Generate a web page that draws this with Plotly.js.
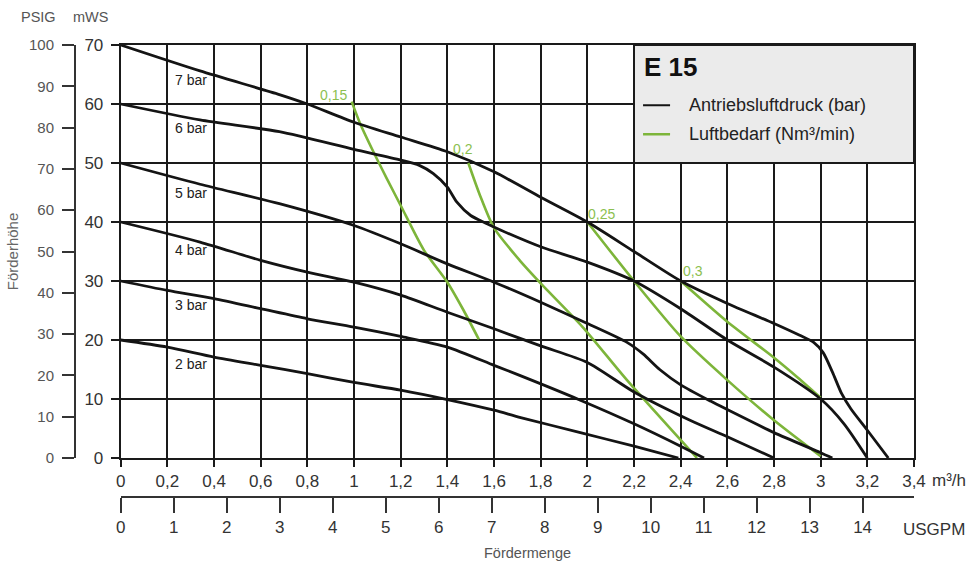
<!DOCTYPE html>
<html><head><meta charset="utf-8">
<script src="https://cdn.plot.ly/plotly-3.0.1.min.js"></script>
<style>html,body{margin:0;padding:0;background:#fff}#chart{width:974px;height:564px}</style>
</head><body><div id="chart"></div>
<script>
// Tick labels
const flowTicks = [0,0.2,0.4,0.6,0.8,1,1.2,1.4,1.6,1.8,2,2.2,2.4,2.6,2.8,3,3.2,3.4];
const flowTickText = ['0','0,2','0,4','0,6','0,8','1','1,2','1,4','1,6','1,8','2','2,2','2,4','2,6','2,8','3','3,2','3,4'];
const headTicks = [0,10,20,30,40,50,60,70];
const psigTicks = [0,10,20,30,40,50,60,70,80,90,100];
const gpmTicks = [0,1,2,3,4,5,6,7,8,9,10,11,12,13,14];

// Antriebsluftdruck curves: Fördermenge (m³/h) vs Förderhöhe (mWS)
const bar7Q = [0, 0.34, 0.68, 0.8, 1.0, 1.2, 1.4, 1.6, 1.8, 2.0, 2.2, 2.4, 2.6, 2.8, 2.91, 2.97, 3.01, 3.05, 3.09, 3.13, 3.2, 3.29];
const bar7H = [70, 65.6, 61.6, 60, 56.9, 54.4, 51.9, 48.5, 44.2, 40, 35, 30, 26.2, 22.8, 20.8, 19.6, 17.9, 14.6, 10.9, 8.3, 4.7, 0];
const bar6Q = [0, 0.34, 0.68, 1.0, 1.2, 1.28, 1.34, 1.4, 1.44, 1.5, 1.57, 1.63, 1.8, 2.0, 2.2, 2.4, 2.6, 2.8, 3.0, 3.1, 3.2];
const bar6H = [60, 57.3, 55.3, 52.3, 50.5, 49.6, 48.2, 45.9, 43.4, 41.1, 39.7, 38.6, 35.8, 33.2, 30, 25.3, 20, 15.4, 10, 5.8, 0];
const bar5Q = [0, 0.34, 0.68, 1.0, 1.2, 1.4, 1.6, 1.8, 2.0, 2.17, 2.24, 2.31, 2.4, 2.53, 2.6, 2.8, 3.0, 3.05];
const bar5H = [50, 46.4, 43.1, 39.4, 36.3, 32.9, 29.8, 26.4, 22.8, 19.6, 17.6, 15.0, 12.4, 9.6, 8.2, 4.3, 0.9, 0];
const bar4Q = [0, 0.34, 0.6, 0.8, 1.0, 1.2, 1.4, 1.6, 1.8, 2.0, 2.2, 2.44, 2.6, 2.8];
const bar4H = [40, 36.6, 33.5, 31.5, 29.8, 27.6, 24.7, 21.9, 19.0, 16.2, 11.2, 6.4, 3.6, 0];
const bar3Q = [0, 0.2, 0.4, 0.6, 0.8, 1.0, 1.2, 1.4, 1.6, 1.71, 1.97, 2.2, 2.4, 2.5];
const bar3H = [30, 28.4, 27, 25.3, 23.6, 22.2, 20.6, 18.8, 15.7, 14, 9.8, 5.8, 2.0, 0];
const bar2Q = [0, 0.2, 0.4, 0.6, 0.8, 1.0, 1.2, 1.4, 1.6, 1.71, 1.97, 2.2, 2.39];
const bar2H = [20, 18.8, 17.1, 15.7, 14.3, 12.8, 11.5, 9.9, 8.1, 6.9, 4.3, 2.0, 0];

// Luftbedarf curves (Nm³/min)
const air015Q = [0.99, 1.026, 1.083, 1.14, 1.2, 1.3, 1.4, 1.47, 1.535];
const air015H = [60.4, 56.7, 51.9, 47.4, 42.8, 35.2, 29.8, 25, 20.1];
const air020Q = [1.49, 1.54, 1.6, 1.71, 1.8, 1.98, 2.17, 2.47];
const air020H = [50, 44.5, 39, 33.5, 29.6, 22.2, 13.2, 0];
const air025Q = [2.0, 2.2, 2.4, 2.6, 2.8, 3.0];
const air025H = [40, 30, 20.6, 13.2, 6.4, 0.3];
const air030Q = [2.4, 2.6, 2.8, 2.9, 3.0];
const air030H = [30, 23.1, 17, 13.7, 10.2];

const pressureLabels = ['7 bar','6 bar','5 bar','4 bar','3 bar','2 bar'];
const pressureLabelQ = [0.224, 0.224, 0.224, 0.224, 0.224, 0.224];
const pressureLabelH = [64.0, 55.9, 44.9, 35.2, 26.0, 16.0];
const airLabels = ['0,15','0,2','0,25','0,3'];
const airLabelQ = [0.91, 1.467, 2.062, 2.453];
const airLabelH = [61.5, 52.4, 41.4, 31.7];

const BLACK = '#141414';
const GREEN = '#7db53a';
const GREEN_TXT = '#8cbf50';
const GRID = '#1a1a1a';

const blackSeries = [[bar7Q,bar7H,'7 bar'],[bar6Q,bar6H,'6 bar'],[bar5Q,bar5H,'5 bar'],[bar4Q,bar4H,'4 bar'],[bar3Q,bar3H,'3 bar'],[bar2Q,bar2H,'2 bar']];
const greenSeries = [[air015Q,air015H,'0,15'],[air020Q,air020H,'0,2'],[air025Q,air025H,'0,25'],[air030Q,air030H,'0,3']];

const traces = [];
greenSeries.forEach(s => traces.push({
  x: s[0], y: s[1], name: 'Luftbedarf ' + s[2] + ' Nm³/min', type: 'scatter', mode: 'lines',
  line: {color: GREEN, width: 2.6, shape: 'spline', smoothing: 0.7},
  xaxis: 'x', yaxis: 'y', showlegend: false, hoverinfo: 'skip'
}));
blackSeries.forEach(s => traces.push({
  x: s[0], y: s[1], name: 'Antriebsluftdruck ' + s[2], type: 'scatter', mode: 'lines',
  line: {color: BLACK, width: 2.8, shape: 'spline', smoothing: 0.7},
  xaxis: 'x', yaxis: 'y', showlegend: false, hoverinfo: 'skip'
}));
// carrier for the secondary (USGPM / PSIG) scales, draws nothing
traces.push({x: [0, 14.97], y: [0, 100], type: 'scatter', mode: 'none', xaxis: 'x2', yaxis: 'y2', showlegend: false, hoverinfo: 'skip'});

const FONT = 'Liberation Sans, Arial, Helvetica, sans-serif';
const px2q = p => (p - 120.7) / 233.3;
const px2h = p => (457.7 - p) / 5.9;

const annotations = [];
pressureLabels.forEach((t, i) => annotations.push({
  x: pressureLabelQ[i], y: pressureLabelH[i], xref: 'x', yref: 'y', text: t, showarrow: false,
  xanchor: 'left', yanchor: 'middle', font: {size: 14, color: '#222'}
}));
airLabels.forEach((t, i) => annotations.push({
  x: airLabelQ[i], y: airLabelH[i], xref: 'x', yref: 'y', text: t, showarrow: false,
  xanchor: 'center', yanchor: 'middle', font: {size: 14, color: GREEN_TXT}
}));
annotations.push(
  {x: px2q(642), y: px2h(67), xref: 'x', yref: 'y', text: '<b>E 15</b>', showarrow: false, xanchor: 'left', yanchor: 'middle', font: {size: 26, color: '#111'}},
  {x: px2q(687), y: px2h(105), xref: 'x', yref: 'y', text: 'Antriebsluftdruck (bar)', showarrow: false, xanchor: 'left', yanchor: 'middle', font: {size: 18, color: '#222'}},
  {x: px2q(687), y: px2h(134), xref: 'x', yref: 'y', text: 'Luftbedarf (Nm³/min)', showarrow: false, xanchor: 'left', yanchor: 'middle', font: {size: 18, color: '#222'}},
  {x: (38 - 75) / 839, y: (496.7 - 17) / 452, xref: 'paper', yref: 'paper', text: 'PSIG', showarrow: false, xanchor: 'center', yanchor: 'middle', font: {size: 14.5, color: '#555'}},
  {x: (90 - 75) / 839, y: (496.7 - 17) / 452, xref: 'paper', yref: 'paper', text: 'mWS', showarrow: false, xanchor: 'center', yanchor: 'middle', font: {size: 14.5, color: '#555'}},
  {x: (930 - 75) / 839, y: (496.7 - 480) / 452, xref: 'paper', yref: 'paper', text: 'm³/h', showarrow: false, xanchor: 'left', yanchor: 'middle', font: {size: 17, color: '#333'}},
  {x: (934 - 75) / 839, y: (496.7 - 529) / 452, xref: 'paper', yref: 'paper', text: 'USGPM', showarrow: false, xanchor: 'center', yanchor: 'middle', font: {size: 17, color: '#333'}},
  {x: (527 - 75) / 839, y: (496.7 - 553) / 452, xref: 'paper', yref: 'paper', text: 'Fördermenge', showarrow: false, xanchor: 'center', yanchor: 'middle', font: {size: 14.5, color: '#555'}}
);

const shapes = [
  {type: 'rect', xref: 'x', yref: 'y', x0: 2.2, x1: 3.4, y0: 50, y1: 70, fillcolor: '#ebebeb', line: {color: GRID, width: 2}, layer: 'above'},
  {type: 'line', xref: 'x', yref: 'y', x0: px2q(643), x1: px2q(670), y0: px2h(105), y1: px2h(105), line: {color: BLACK, width: 2}, layer: 'above'},
  {type: 'line', xref: 'x', yref: 'y', x0: px2q(643), x1: px2q(670), y0: px2h(134), y1: px2h(134), line: {color: GREEN, width: 2.5}, layer: 'above'}
];

const layout = {
  width: 974, height: 564,
  margin: {l: 75, r: 60, t: 44.7, b: 67.3, pad: 0},
  paper_bgcolor: '#fff', plot_bgcolor: '#fff',
  font: {family: FONT, color: '#333'},
  showlegend: false,
  xaxis: {
    domain: [45.7 / 839, 1], range: [0, 3.4], anchor: 'y',
    tickmode: 'array', tickvals: flowTicks, ticktext: flowTickText,
    showgrid: true, gridcolor: GRID, gridwidth: 2, zeroline: false,
    showline: true, mirror: true, linecolor: GRID, linewidth: 2,
    ticks: 'outside', ticklen: 7, tickwidth: 2, tickcolor: GRID,
    tickfont: {size: 17, color: '#333'}, fixedrange: true
  },
  yaxis: {
    domain: [39 / 452, 1], range: [0, 70], anchor: 'x',
    tickmode: 'array', tickvals: headTicks,
    showgrid: true, gridcolor: GRID, gridwidth: 2, zeroline: false,
    showline: true, mirror: true, linecolor: GRID, linewidth: 2,
    ticks: 'outside', ticklen: 8, tickwidth: 2, tickcolor: GRID,
    tickfont: {size: 17, color: '#333'}, ticklabelstandoff: 4, fixedrange: true
  },
  xaxis2: {
    overlaying: 'x', anchor: 'free', position: 0, side: 'bottom', range: [0, 14.97],
    tickmode: 'array', tickvals: gpmTicks,
    showgrid: false, zeroline: false, showline: true, linecolor: '#333', linewidth: 2,
    ticks: 'outside', ticklen: 15, tickwidth: 2, tickcolor: '#333',
    tickfont: {size: 17, color: '#333'}, fixedrange: true
  },
  yaxis2: {
    overlaying: 'y', anchor: 'free', position: 0, side: 'left', range: [0, 100],
    tickmode: 'array', tickvals: psigTicks,
    showgrid: false, zeroline: false, showline: true, linecolor: '#333', linewidth: 2,
    ticks: 'outside', ticklen: 12, tickwidth: 2, tickcolor: '#333',
    tickfont: {size: 15, color: '#555'}, ticklabelstandoff: 5,
    title: {text: 'Förderhöhe', font: {size: 15, color: '#666'}, standoff: 6},
    fixedrange: true
  },
  annotations: annotations,
  shapes: shapes
};

Plotly.newPlot('chart', traces, layout, {displayModeBar: false, staticPlot: true});
</script>
</body></html>
